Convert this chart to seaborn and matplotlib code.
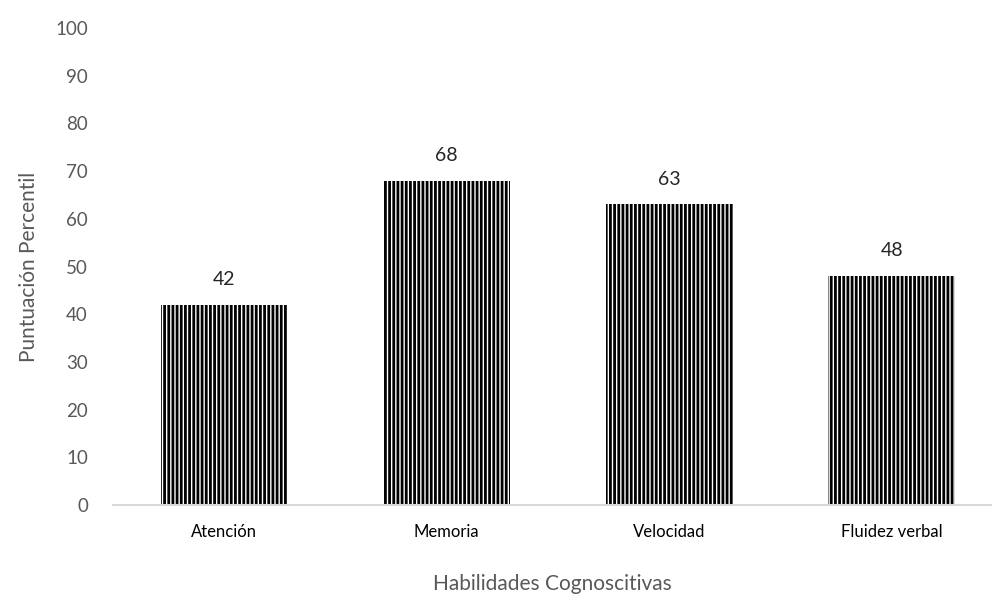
import matplotlib
matplotlib.use("Agg")
import matplotlib.pyplot as plt
import seaborn as sns
import pandas as pd

categories = ["Atención", "Memoria", "Velocidad", "Fluidez verbal"]
values = [42, 68, 63, 48]
yticks = [0, 10, 20, 30, 40, 50, 60, 70, 80, 90, 100]

sns.set_theme(style="white")
plt.rcParams["font.family"] = ["Lato", "DejaVu Sans"]
plt.rcParams["hatch.linewidth"] = 2.0
plt.rcParams["hatch.color"] = "black"

df = pd.DataFrame({"cat": categories, "val": values})

fig = plt.figure(figsize=(9.92, 5.98), dpi=100)
ax = fig.add_axes([113/992, (598-505)/598, 1 - 113/992, (505-28)/598])

sns.barplot(data=df, x="cat", y="val", color="white", width=0.57,
            edgecolor="black", linewidth=0, saturation=1, ax=ax)
for p in ax.patches:
    p.set_hatch("||||")
    p.set_facecolor("white")
    p.set_edgecolor("black")
    p.set_linewidth(0)

for i, v in enumerate(values):
    ax.text(i, v + 3.5, str(v), ha="center", va="bottom", fontsize=14, color="#262626")

ax.set_ylim(0, 100)
ax.set_xlim(-0.5, 3.45)
ax.set_yticks(yticks)
ax.set_yticklabels([str(t) for t in yticks], fontsize=13.5, color="#595959")
ax.tick_params(axis="y", length=0, pad=18)
ax.tick_params(axis="x", length=0, pad=14, labelsize=12, labelcolor="black")

for s in ["top", "right", "left"]:
    ax.spines[s].set_visible(False)
ax.spines["bottom"].set_color("#d9d9d9")
ax.spines["bottom"].set_linewidth(1.5)

ax.set_xlabel("Habilidades Cognoscitivas", fontsize=15, color="#595959", labelpad=24)
ax.set_ylabel("Puntuación Percentil", fontsize=15, color="#595959", labelpad=12)

fig.savefig("out.png", dpi=100)
